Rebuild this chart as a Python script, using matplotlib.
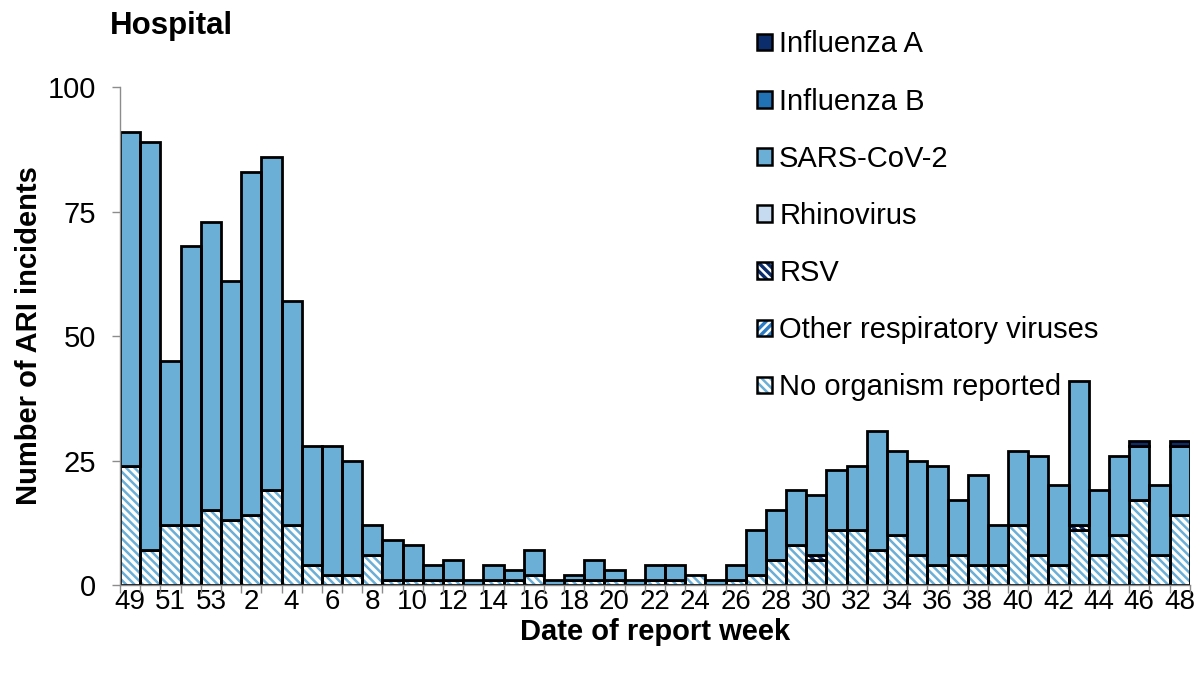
import matplotlib
matplotlib.use("Agg")
import matplotlib.pyplot as plt
from matplotlib.patches import Patch
from matplotlib.legend_handler import HandlerTuple
import numpy as np

plt.rcParams['font.family'] = ['Liberation Sans', 'DejaVu Sans']
plt.rcParams['hatch.linewidth'] = 1.8

weeks = [49, 50, 51, 52, 53] + list(range(1, 49))

no_organism = [24, 7, 12, 12, 15, 13, 14, 19, 12, 4, 2, 2, 6, 1, 1, 1, 1, 0, 1, 1,
               2, 0, 1, 1, 1, 0, 1, 1, 2, 0, 1, 2, 5, 8, 5, 11, 11, 7, 10, 6,
               4, 6, 4, 4, 12, 6, 4, 11, 6, 10, 17, 6, 14]
other_resp = [0] * 53
# RSV in weeks 30 and 43
rsv = [0] * 34 + [1] + [0] * 12 + [1] + [0] * 5
rhinovirus = [0] * 53
sars = [67, 82, 33, 56, 58, 48, 69, 67, 45, 24, 26, 23, 6, 8, 7, 3, 4, 1, 3, 2,
        5, 1, 1, 4, 2, 1, 3, 3, 0, 1, 3, 9, 10, 11, 12, 12, 13, 24, 17, 19,
        20, 11, 18, 8, 15, 20, 16, 29, 13, 16, 11, 14, 14]
influenza_b = [0] * 53
# Influenza A in weeks 46 and 48
influenza_a = [0] * 50 + [1, 0, 1]

# name, values, face colour, hatch, hatch colour (bottom to top)
series = [
    ("No organism reported", no_organism, "white", "\\\\\\\\", "#6baed6"),
    ("Other respiratory viruses", other_resp, "#2b7bc4", "////", "white"),
    ("RSV", rsv, "#0b2d6b", "\\\\\\\\", "white"),
    ("Rhinovirus", rhinovirus, "#c6dbef", None, None),
    ("SARS-CoV-2", sars, "#6baed6", None, None),
    ("Influenza B", influenza_b, "#2171b5", None, None),
    ("Influenza A", influenza_a, "#0b2d6b", None, None),
]

fig = plt.figure(figsize=(12.03, 6.75), dpi=100)
ax = fig.add_axes([0.0998, 0.1333, 0.8892, 0.7377])

x = np.arange(len(weeks))
bottom = np.zeros(len(weeks))
handles = {}
for name, vals, face, hatch, hcol in series:
    vals = np.array(vals, dtype=float)
    m = vals > 0
    if m.any():
        if hatch:
            ax.bar(x[m], vals[m], width=1.0, bottom=bottom[m], color=face,
                   edgecolor=hcol, hatch=hatch, linewidth=0)
        else:
            ax.bar(x[m], vals[m], width=1.0, bottom=bottom[m], color=face, linewidth=0)
        ax.bar(x[m], vals[m], width=1.0, bottom=bottom[m], facecolor="none",
               edgecolor="black", linewidth=2.0)
    if hatch:
        h = (Patch(facecolor=face, edgecolor=hcol, hatch=hatch, linewidth=0),
             Patch(facecolor="none", edgecolor="black", linewidth=1.8))
    else:
        h = Patch(facecolor=face, edgecolor="black", linewidth=1.8)
    handles[name] = h
    bottom += vals

ax.set_xlim(-0.5, len(weeks) - 0.5)
ax.set_ylim(0, 100)
ax.set_yticks([0, 25, 50, 75, 100])
ax.set_xticks(x[::2])
ax.set_xticklabels([str(w) for w in weeks[::2]])
ax.set_xticks(np.arange(-0.5, len(weeks)), minor=True)
ax.tick_params(axis='x', which='major', length=0, labelsize=20, pad=3)
ax.tick_params(axis='x', which='minor', length=6, color="#8c8c8c", width=1)
ax.tick_params(axis='y', length=6, color="#8c8c8c", width=1, labelsize=21, pad=11)

for s in ["top", "right"]:
    ax.spines[s].set_visible(False)
for s in ["left", "bottom"]:
    ax.spines[s].set_color("#8c8c8c")
    ax.spines[s].set_linewidth(1)

ax.set_xlabel("Date of report week", fontsize=21, fontweight="bold", labelpad=2)
ax.set_ylabel("Number of ARI incidents", fontsize=21, fontweight="bold", labelpad=4)
fig.text(0.091, 0.962, "Hospital", fontsize=22.5, fontweight="bold", va="center")

order = ["Influenza A", "Influenza B", "SARS-CoV-2", "Rhinovirus", "RSV",
         "Other respiratory viruses", "No organism reported"]
leg = fig.legend([handles[n] for n in order], order, loc="upper left",
                 bbox_to_anchor=(0.6295, 0.955), frameon=False, fontsize=21,
                 handlelength=0.5, handleheight=0.5, handletextpad=0.25,
                 labelspacing=1.0, borderpad=0, borderaxespad=0,
                 handler_map={tuple: HandlerTuple(ndivide=1)})

fig.savefig("out.png", dpi=100)
